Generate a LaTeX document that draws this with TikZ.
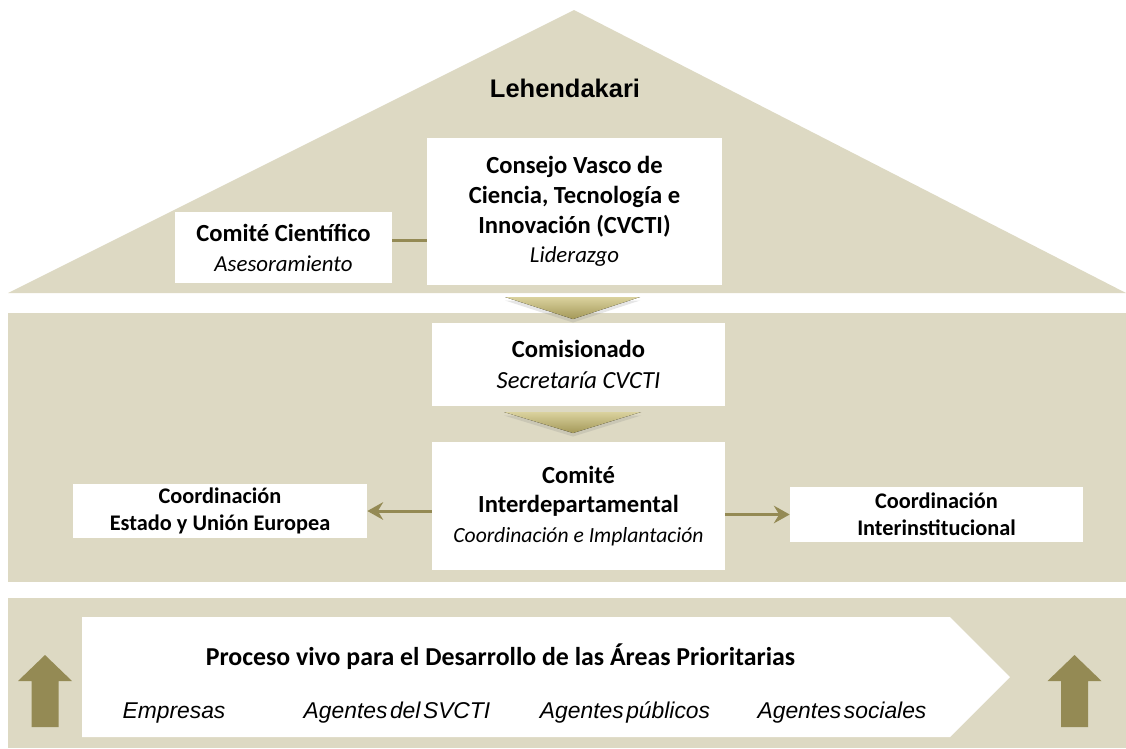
\documentclass[tikz,border=0pt]{standalone}
\usepackage{fontspec}
\setmainfont{Carlito}
\newfontfamily\arialfont{Liberation Sans}[WordSpace=0.4]
\usetikzlibrary{arrows.meta,shadows}

\definecolor{bandtan}{HTML}{DDD9C3}
\definecolor{arrowolive}{HTML}{948A54}
\definecolor{chevlight}{HTML}{DAD29E}
\definecolor{chevdark}{HTML}{A39858}

\begin{document}
\begin{tikzpicture}[x=0.02cm,y=-0.02cm,
  box/.style={fill=white,align=center,inner sep=0pt,font=\fontsize{14}{17}\selectfont},
  link/.style={draw=arrowolive,line width=1.7pt},
  tip/.style={-{Stealth[length=9pt,width=10pt,inset=3pt]}},
  chevron/.style={top color=chevlight,bottom color=chevdark,
    drop shadow={opacity=0.2,shadow xshift=0pt,shadow yshift=-2pt}},
  agent/.style={anchor=base,font=\arialfont\itshape\fontsize{13}{15}\selectfont}]
\useasboundingbox (0,0) rectangle (1126,748);

% roof and bands
\fill[bandtan] (8,293) -- (574,10) -- (1126,293) -- cycle;
\fill[bandtan] (8,313) rectangle (1126,582);
\fill[bandtan] (8,598) rectangle (1126,748);

% top level
\node[font=\arialfont\bfseries\fontsize{14.5}{17}\selectfont] (lehend) at (565,88) {Lehendakari};
\node[box,minimum width=5.9cm,minimum height=2.94cm] (cvcti) at (574.5,211.5)
  {\bfseries Consejo Vasco de\\\bfseries Ciencia, Tecnología e\\\bfseries Innovación (CVCTI)\\\fontsize{13}{17}\selectfont\itshape Liderazgo};
\node[box,minimum width=4.34cm,minimum height=1.42cm] (cient) at (283.5,247.5)
  {\bfseries Comité Científico\\\fontsize{13}{16.5}\selectfont\itshape Asesoramiento};
\draw[link] ([yshift=0.15cm]cient.east) -- ([yshift=0.15cm]cient.east -| cvcti.west);

% chevrons
\fill[chevron] (505,297) -- (640,297) -- (573,319) -- cycle;
\fill[chevron] (504,412) -- (641,412) -- (573,433) -- cycle;

% middle level
\node[box,minimum width=5.86cm,minimum height=1.66cm] (comis) at (578.5,364.5)
  {\bfseries Comisionado\\[1pt]\itshape Secretaría CVCTI};
\node[box,minimum width=5.86cm,minimum height=2.56cm] (inter) at (578.5,506)
  {\bfseries Comité\\\bfseries Interdepartamental\\\fontsize{12.3}{17}\selectfont\itshape Coordinación e Implantación};
\node[box,minimum width=5.88cm,minimum height=1.08cm,font=\bfseries\fontsize{12.7}{15.4}\selectfont] (coordue) at (220,511)
  {Coordinación\\Estado y Unión Europea};
\node[box,minimum width=5.86cm,minimum height=1.1cm,font=\bfseries\fontsize{12.7}{15.4}\selectfont] (coordinst) at (936.5,514.5)
  {Coordinación\\Interinstitucional};
\draw[link,tip] (inter.west |- coordue.east) -- (coordue.east);
\draw[link,tip] (inter.east |- coordinst.west) -- (coordinst.west);

% bottom level
\fill[white] (82,617) -- (950,617) -- (1010,677) -- (950,737) -- (82,737) -- cycle;
\node[anchor=base,font=\bfseries\fontsize{14.7}{17}\selectfont] (proceso) at (500.5,665)
  {Proceso vivo para el Desarrollo de las Áreas Prioritarias};
\node[agent] (empresas) at (174,718) {Empresas};
\node[agent] (svcti) at (397,718) {Agentes del SVCTI};
\node[agent] (publicos) at (625,718) {Agentes públicos};
\node[agent] (sociales) at (842,718) {Agentes sociales};
\foreach \x in {45,1074.5}
  \fill[arrowolive] (\x-13.5,727) -- (\x-13.5,681) -- (\x-27,681) -- (\x,655)
    -- (\x+27,681) -- (\x+13.5,681) -- (\x+13.5,727) -- cycle;
\end{tikzpicture}
\end{document}
